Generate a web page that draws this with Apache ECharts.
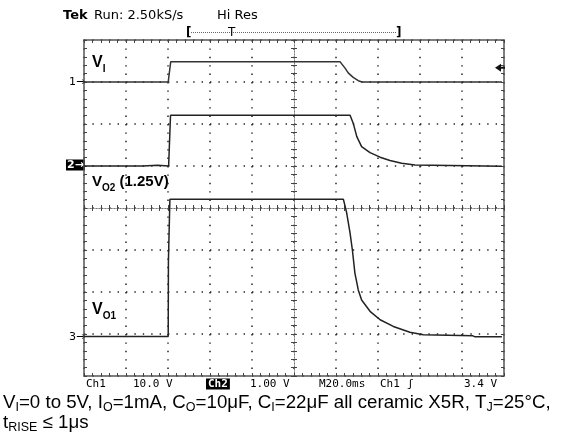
<!DOCTYPE html>
<html>
<head>
<meta charset="utf-8">
<script src="https://cdn.jsdelivr.net/npm/echarts@6/dist/echarts.min.js"></script>
<style>
html,body{margin:0;padding:0;background:#fff;}
#c{width:565px;height:443px;}
</style>
</head>
<body>
<div id="c"></div>
<script>
// ---- data (time in ms, 20 ms/div; voltages per channel) ----
const timeVI = [0, 40.1, 41.3, 121.9, 122.4, 124.3, 125.9, 128.2, 130.6, 132.4, 199];
const valVI  = [0, 0, 4.85, 4.85, 4.7, 3.3, 2.1, 1.1, 0.3, 0, 0];

const timeVO2 = [0, 28, 28.2, 35, 35.2, 40.3, 41.2, 126.7, 128.2, 129.9, 132.2, 136.2, 141.0, 145.7, 151.3, 157.6, 174.3, 174.8, 199];
const valVO2  = [0, 0, 0.02, 0.02, 0, 0, 1.21, 1.21, 1.02, 0.70, 0.46, 0.32, 0.21, 0.13, 0.064, 0.024, 0.012, -0.005, -0.005];

const timeVO1 = [0, 40.1, 40.2, 40.8, 40.9, 123.5, 125.1, 126.7, 127.8, 129.0, 130.6, 132.2, 136.2, 141.0, 147.3, 155.2, 161.6, 185.2, 186.2, 199];
const valVO1  = [0, 0, 1.8, 1.8, 3.27, 3.27, 2.94, 2.46, 2.06, 1.51, 1.11, 0.87, 0.60, 0.40, 0.24, 0.10, 0.04, 0.017, -0.007, -0.007];

const triggerLevel = 3.4;   // V on Ch1
const timeMax = 200;        // 10 div x 20 ms
const divs = 8;

function pairs(t, v) { return t.map((x, i) => [x, v[i]]); }

const GRID = {left: 84, top: 40, width: 420, height: 336};
const frameColor = '#555';
const dotColor = '#222';

function edgeAxis(extra) {
  return Object.assign({
    axisLine: {show: true, onZero: false, lineStyle: {color: frameColor, width: 1.5}},
    axisTick: {show: true, inside: true, length: 3, lineStyle: {color: '#444', width: 1}},
    minorTick: {show: true, splitNumber: 5, length: 3, lineStyle: {color: '#444', width: 1}},
    axisLabel: {show: false},
    splitLine: {show: false}
  }, extra);
}
function centerAxis(extra) {
  return Object.assign({
    axisLine: {show: true, onZero: false, lineStyle: {color: '#777', width: 1, type: [1, 2]}},
    axisTick: {show: true, inside: true, length: 3, lineStyle: {color: '#444'}},
    minorTick: {show: true, splitNumber: 5, length: 3, lineStyle: {color: '#444'}},
    axisLabel: {show: false},
    splitLine: {show: false}
  }, extra);
}

const xBase = {type: 'value', min: 0, max: timeMax, interval: 20};
const yBase = {type: 'value', min: 0, max: divs, interval: 1};
const dotLine = {show: true, lineStyle: {color: dotColor, width: 1.5, type: [1.4, 7.0]}};

const option = {
  animation: false,
  backgroundColor: '#fff',
  grid: Object.assign({show: false}, GRID),
  xAxis: [
    edgeAxis(Object.assign({}, xBase, {position: 'bottom', offset: 0, splitLine: dotLine})),
    edgeAxis(Object.assign({}, xBase, {position: 'top', offset: 0})),
    centerAxis(Object.assign({}, xBase, {position: 'bottom', offset: -168})),
    centerAxis(Object.assign({}, xBase, {position: 'top', offset: -168}))
  ],
  yAxis: [
    edgeAxis(Object.assign({}, yBase, {position: 'left', offset: 0, splitLine: dotLine})),
    edgeAxis(Object.assign({}, yBase, {position: 'right', offset: 0})),
    centerAxis(Object.assign({}, yBase, {position: 'left', offset: -210})),
    centerAxis(Object.assign({}, yBase, {position: 'right', offset: -210})),
    // channel axes (hidden): Ch1 10 V/div, Ch2 1 V/div, Ch3 1 V/div
    {type: 'value', show: false, min: -70, max: 10, position: 'left'},
    {type: 'value', show: false, min: -5, max: 3, position: 'left'},
    {type: 'value', show: false, min: -0.94, max: 7.06, position: 'left'}
  ],
  series: [
    {type: 'line', xAxisIndex: 0, yAxisIndex: 4, data: pairs(timeVI, valVI), showSymbol: false,
     lineStyle: {color: '#333', width: 1.5},
     markPoint: {silent: true, symbol: 'path://M0,4 L6,0 L6,3 L10,3 L10,5 L6,5 L6,8 Z', symbolSize: [10, 8],
       symbolOffset: [-4, 0], itemStyle: {color: '#111'}, label: {show: false},
       data: [{coord: [timeMax, triggerLevel]}]}},
    {type: 'line', xAxisIndex: 0, yAxisIndex: 5, data: pairs(timeVO2, valVO2), showSymbol: false,
     lineStyle: {color: '#222', width: 1.5}},
    {type: 'line', xAxisIndex: 0, yAxisIndex: 6, data: pairs(timeVO1, valVO1), showSymbol: false,
     lineStyle: {color: '#222', width: 1.5}}
  ],
  graphic: [
    // header
    {type: 'text', x: 63, y: 16, style: {text: 'Tek', font: 'bold 13px "DejaVu Sans"', fill: '#000', verticalAlign: 'middle'}},
    {type: 'text', x: 94, y: 16, style: {text: 'Run: 2.50kS/s', font: '13px "DejaVu Sans"', fill: '#000', verticalAlign: 'middle'}},
    {type: 'text', x: 217, y: 16, style: {text: 'Hi Res', font: '13px "DejaVu Sans"', fill: '#000', verticalAlign: 'middle'}},
    {type: 'text', x: 186, y: 33, style: {text: '[', font: 'bold 12px "DejaVu Sans"', fill: '#000', verticalAlign: 'middle'}},
    {type: 'text', x: 396, y: 33, style: {text: ']', font: 'bold 12px "DejaVu Sans"', fill: '#000', verticalAlign: 'middle'}},
    {type: 'line', shape: {x1: 191, y1: 32.5, x2: 397, y2: 32.5}, style: {stroke: '#666', lineWidth: 1, lineDash: [1, 1]}},
    {type: 'text', x: 228, y: 33, style: {text: 'T', font: '12px "DejaVu Sans"', fill: '#000', verticalAlign: 'middle'}},
    // channel markers
    {type: 'text', x: 69, y: 82, style: {text: '1\u2192', font: '11px "DejaVu Sans"', fill: '#000', verticalAlign: 'middle'}},
    {type: 'text', x: 66, y: 165, style: {text: '2\u2192', font: 'bold 11px "DejaVu Sans"', fill: '#fff', backgroundColor: '#000', padding: [0, 1, 0, 1], verticalAlign: 'middle'}},
    {type: 'text', x: 69, y: 337, style: {text: '3\u2192', font: '11px "DejaVu Sans"', fill: '#000', verticalAlign: 'middle'}},
    // trace labels
    {type: 'text', x: 92, y: 63, style: {text: '{b|V}{s|I}', verticalAlign: 'middle',
      rich: {b: {fontFamily: 'Liberation Sans', fontWeight: 'bold', fontSize: 16, lineHeight: 22, verticalAlign: 'middle', fill: '#000'},
             s: {fontFamily: 'Liberation Sans', fontWeight: 'bold', fontSize: 10, lineHeight: 22, verticalAlign: 'bottom', fill: '#000'}}}},
    {type: 'text', x: 92, y: 182, style: {text: '{b|V}{s|O2}{b| (1.25V)}', verticalAlign: 'middle',
      rich: {b: {fontFamily: 'Liberation Sans', fontWeight: 'bold', fontSize: 15, lineHeight: 22, verticalAlign: 'middle', fill: '#000'},
             s: {fontFamily: 'Liberation Sans', fontWeight: 'bold', fontSize: 10, lineHeight: 22, verticalAlign: 'bottom', fill: '#000'}}}},
    {type: 'text', x: 92, y: 310, style: {text: '{b|V}{s|O1}', verticalAlign: 'middle',
      rich: {b: {fontFamily: 'Liberation Sans', fontWeight: 'bold', fontSize: 16, lineHeight: 22, verticalAlign: 'middle', fill: '#000'},
             s: {fontFamily: 'Liberation Sans', fontWeight: 'bold', fontSize: 10, lineHeight: 22, verticalAlign: 'bottom', fill: '#000'}}}},
    // status line
    {type: 'text', x: 86, y: 384, style: {text: 'Ch1', font: '11px "DejaVu Sans Mono"', fill: '#000', verticalAlign: 'middle'}},
    {type: 'text', x: 133, y: 384, style: {text: '10.0 V', font: '11px "DejaVu Sans Mono"', fill: '#000', verticalAlign: 'middle'}},
    {type: 'text', x: 206, y: 384, style: {text: 'Ch2', font: 'bold 11px "DejaVu Sans Mono"', fill: '#fff', backgroundColor: '#000', padding: [0, 2, 0, 2], verticalAlign: 'middle'}},
    {type: 'text', x: 250, y: 384, style: {text: '1.00 V', font: '11px "DejaVu Sans Mono"', fill: '#000', verticalAlign: 'middle'}},
    {type: 'text', x: 319, y: 384, style: {text: 'M20.0ms', font: '11px "DejaVu Sans Mono"', fill: '#000', verticalAlign: 'middle'}},
    {type: 'text', x: 380, y: 384, style: {text: 'Ch1', font: '11px "DejaVu Sans Mono"', fill: '#000', verticalAlign: 'middle'}},
    {type: 'text', x: 407, y: 384, style: {text: '\u0283', font: '11px "DejaVu Sans Mono"', fill: '#000', verticalAlign: 'middle'}},
    {type: 'text', x: 464, y: 384, style: {text: '3.4 V', font: '11px "DejaVu Sans Mono"', fill: '#000', verticalAlign: 'middle'}},
    // caption
    {type: 'text', x: 3, y: 403, style: {
      text: '{n|V}{s|I}{n|=0 to 5V, I}{s|O}{n|=1mA, C}{s|O}{n|=10\u03bcF, C}{s|I}{n|=22\u03bcF all ceramic X5R, T}{s|J}{n|=25\u00b0C,}',
      verticalAlign: 'middle',
      rich: {n: {fontFamily: 'Liberation Sans', fontSize: 18.7, lineHeight: 22, verticalAlign: 'middle', fill: '#000'},
             s: {fontFamily: 'Liberation Sans', fontSize: 12.5, lineHeight: 22, verticalAlign: 'bottom', fill: '#000'}}}},
    {type: 'text', x: 3, y: 423, style: {
      text: '{n|t}{s|RISE}{n| \u2264 1\u03bcs}',
      verticalAlign: 'middle',
      rich: {n: {fontFamily: 'Liberation Sans', fontSize: 18.7, lineHeight: 22, verticalAlign: 'middle', fill: '#000'},
             s: {fontFamily: 'Liberation Sans', fontSize: 12.5, lineHeight: 22, verticalAlign: 'bottom', fill: '#000'}}}}
  ]
};

const chart = echarts.init(document.getElementById('c'), null, {renderer: 'canvas'});
chart.setOption(option);
</script>
</body>
</html>
